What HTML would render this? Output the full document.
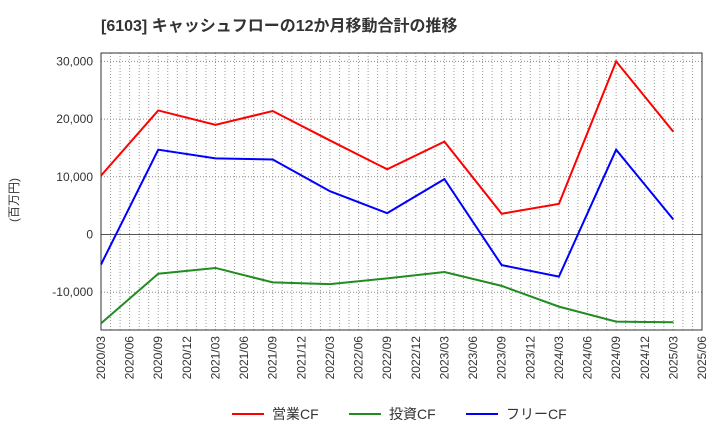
<!DOCTYPE html>
<html><head><meta charset="utf-8"><style>
body{margin:0;background:#fff;font-family:"Liberation Sans","Noto Sans CJK JP",sans-serif;}
</style></head><body>
<svg id="c" width="720" height="440" xmlns="http://www.w3.org/2000/svg" font-family="Liberation Sans, Noto Sans CJK JP, sans-serif">
<text x="101" y="31" font-size="16" font-weight="bold" fill="#333">[6103]  キャッシュフローの12か月移動合計の推移</text>
<text transform="translate(18,200) rotate(-90)" font-size="12" fill="#333" text-anchor="middle">(百万円)</text>
<g id="grid"></g><g id="axes"></g><g id="series"></g>
<g>
<line x1="232" y1="414" x2="264" y2="414" stroke="#f00" stroke-width="2"/>
<text x="272" y="419" font-size="14" fill="#333">営業CF</text>
<line x1="349" y1="414" x2="381" y2="414" stroke="#228b22" stroke-width="2"/>
<text x="389" y="419" font-size="14" fill="#333">投資CF</text>
<line x1="466" y1="414" x2="498" y2="414" stroke="#00f" stroke-width="2"/>
<text x="506" y="419" font-size="14" fill="#333">フリーCF</text>
</g>
</svg>
<script>
const xLabels=["2020/03","2020/06","2020/09","2020/12","2021/03","2021/06","2021/09","2021/12","2022/03","2022/06","2022/09","2022/12","2023/03","2023/06","2023/09","2023/12","2024/03","2024/06","2024/09","2024/12","2025/03","2025/06"];
const yTicks=[-10000,0,10000,20000,30000];
const pointIdx=[0,2,4,6,8,10,12,14,16,18,20];
const operatingCF=[10200,21500,19000,21400,16300,11300,16100,3600,5300,30000,17800];
const investingCF=[-15400,-6800,-5800,-8300,-8600,-7600,-6500,-8900,-12500,-15100,-15200];
const freeCF=[-5200,14700,13200,13000,7500,3700,9600,-5300,-7300,14700,2600];
const L=101,R=702,T=53,B=330;
const X=i=>L+(R-L)*i/21;
const Y=v=>234.5-v*57.7/10000;
const ns="http://www.w3.org/2000/svg";
function mk(tag,attrs,parent){const e=document.createElementNS(ns,tag);for(const k in attrs)e.setAttribute(k,attrs[k]);document.getElementById(parent).appendChild(e);return e;}
for(let m=1;m<63;m++){const x=L+(R-L)*m/63;const g=mk('line',{x1:x,x2:x,y1:T,y2:B,stroke:'#999','stroke-dasharray':'1,2','stroke-width':1},'grid');

}
yTicks.forEach(v=>{const y=Y(v);const g=mk('line',{x1:L,x2:R,y1:y,y2:y,stroke:v===0?'#555':'#888','stroke-dasharray':v===0?'':'1,2','stroke-width':1},'grid');


const t=mk('text',{x:L-8,y:y+4,'font-size':12,fill:'#333','text-anchor':'end'},'axes');t.textContent=v.toLocaleString('en-US');

});
const fr=mk('rect',{x:L,y:T,width:R-L,height:B-T,fill:'none',stroke:'#333'},'axes');


xLabels.forEach((s,i)=>{const x=X(i);const t=mk('text',{transform:`translate(${x+4},${B+6}) rotate(-90)`,'font-size':12,fill:'#333','text-anchor':'end'},'axes');t.textContent=s;

});
[[operatingCF,'#f00','operating-cf-line'],[investingCF,'#228b22','investing-cf-line'],[freeCF,'#00f','free-cf-line']].forEach(([d,c,n])=>{
const p=mk('polyline',{points:d.map((v,k)=>X(pointIdx[k])+','+Y(v)).join(' '),fill:'none',stroke:c,'stroke-width':2},'series');

});
</script>
</body></html>
